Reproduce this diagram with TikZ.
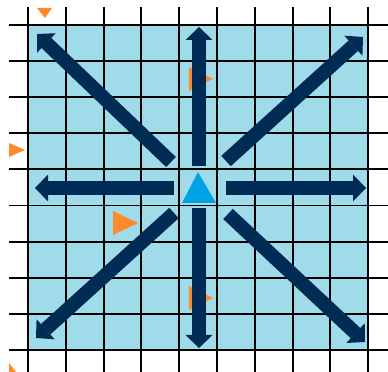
\documentclass[tikz,border=0pt]{standalone}
\usepackage{xcolor}
\usepackage{tikz}
\usetikzlibrary{arrows.meta}

\definecolor{navy}{HTML}{002B55}
\definecolor{boardblue}{HTML}{A0DBEA}
\definecolor{agentblue}{HTML}{00A4E4}
\definecolor{markorange}{HTML}{FF8A2B}

\begin{document}
\begin{tikzpicture}[
    x=0.025cm, y=-0.025cm,
    gridline/.style={black, line width=1.4pt},
    move/.style={navy, line width=0.35cm, -{Triangle[length=0.325cm, width=0.675cm, line width=0pt]}},
    marker/.style={fill=markorange},
    agent/.style={fill=agentblue}
]
\useasboundingbox (0,0) rectangle (388,372);

% Board - light blue square
\fill[boardblue] (28,25) rectangle (368,350);

% Orange markers - some sit under the arrows
\fill[marker] (37,8) -- (52,8) -- (45,18) -- cycle;
\fill[marker] (9,143) -- (25,150) -- (9,157) -- cycle;
\fill[marker] (189,67) -- (213,79) -- (189,91) -- cycle;
\fill[marker] (113,211) -- (138,223) -- (113,235) -- cycle;
\fill[marker] (189,286) -- (213,298) -- (189,310) -- cycle;
\fill[marker] (9,363) -- (16,372) -- (9,372) -- cycle;

% Grid lines, running past the board
\foreach \i in {0,...,9} {
  \draw[gridline] (9,{25+36.1*\i}) -- (388,{25+36.1*\i});
  \draw[gridline] ({28+37.8*\i},7) -- ({28+37.8*\i},372);
}

% Eight moves out of the centre cell
\foreach \ax/\ay/\bx/\by in {199/166/199/27, 199/208/199/348,
    174/188/35/188, 226/188/366/188,
    171/162/37/34, 226/161/363/37,
    174/213/36/338, 228/214/365/342} {
  \coordinate (tail) at (\ax,\ay);
  \coordinate (tip) at (\bx,\by);
  \draw[move] (tail) -- (tip);
}

% Agent in the centre
\fill[agent] (198,172) -- (216,203) -- (182,203) -- cycle;

\end{tikzpicture}
\end{document}
